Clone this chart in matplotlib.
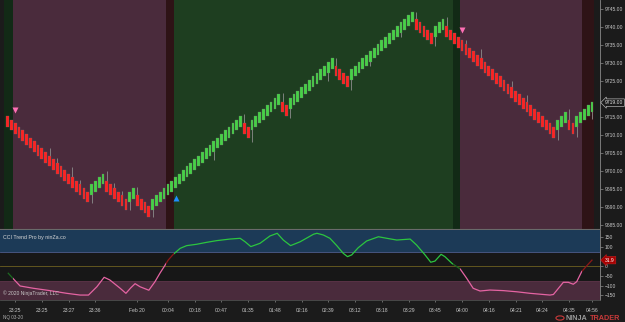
import numpy as np
import matplotlib
matplotlib.use('Agg')
import matplotlib.pyplot as plt
from matplotlib.patches import Rectangle, Circle

plt.rcParams['font.family'] = ['Liberation Sans', 'DejaVu Sans']

# renko bricks: signed run lengths (red < 0, green > 0)
runs = [-22, 4, -6, 2, -4, 24, -2, 8, -2, 12, -4, 17, -5, 3, -29, 3, -2, 5]
first_top = 9715.3
brick_body = 3.0
last_price = 9719.00

# wicks (bar index, extreme price)
wick_bar = [11, 13, 17, 19, 22, 26, 28, 30, 32, 34, 38, 54, 62, 64, 72, 74, 84, 86,
            90, 95, 103, 107, 112, 115, 120, 124, 132, 136, 144, 147, 149, 153]
wick_price = [9706.3, 9703.5, 9701.2, 9697.5, 9691.2, 9700.1, 9696.7, 9694.5, 9689.2,
              9695.5, 9687.3, 9703.1, 9715.8, 9708.1, 9721.8, 9714.6, 9725.0, 9731.5,
              9722.6, 9729.2, 9737.1, 9744.3, 9734.8, 9742.8, 9736.4, 9733.8, 9725.0,
              9721.0, 9708.6, 9717.1, 9709.4, 9714.4]

# signal arrows
sell_bar = [2, 119]
sell_price = [9717.0, 9739.2]
buy_bar = [44]
buy_price = [9692.4]

# trend zones (bar edges) and their kind
zone_edges = [-1.0, 1.5, 41.5, 43.5, 116.5, 118.5, 150.5, 153.5]
zone_kind = ['to_down', 'down', 'to_up', 'up', 'to_down', 'down', 'to_up']

# CCI Trend Pro line
cci_bar = [0.2, 1.4, 3.3, 6.8, 11.1, 15.5, 19.0, 21.2, 23.4, 25.3, 26.8, 29.5, 31.0, 32.3,
           33.4, 34.7, 37.0, 38.6, 39.9, 41.0, 42.1, 43.4, 45.2, 46.9, 49.5, 52.1, 54.8,
           58.2, 60.9, 62.2, 63.7, 66.1, 68.7, 70.6, 72.2, 74.1, 76.6, 80.1, 81.0, 82.7,
           84.4, 86.2, 87.9, 89.0, 90.1, 91.8, 94.0, 97.1, 99.3, 101.9, 105.4, 107.1,
           109.3, 110.8, 111.9, 113.5, 114.5, 116.3, 118.5, 120.2, 121.9, 123.7, 126.3,
           129.8, 133.3, 136.8, 142.0, 142.9, 145.5, 146.8, 148.1, 149.0, 150.3, 151.6, 153.0]
cci_val = [-36, -62, -102, -114, -126, -140, -149, -149, -106, -57, -71, -114, -140, -111,
           -90, -106, -124, -80, -36, -2, 33, 62, 93, 107, 114, 124, 133,
           141, 145, 127, 102, 119, 157, 171, 136, 107, 127, 166, 171, 162,
           145, 107, 67, 50, 59, 96, 131, 153, 145, 136, 141, 110,
           59, 21, 27, 62, 50, 16, -14, -62, -114, -128, -123,
           -126, -132, -140, -149, -146, -83, -83, -93, -80, -28, 2, 31.9]
cci_last = 31.9

price_ticks = [9685, 9690, 9695, 9700, 9705, 9710, 9715, 9725, 9730, 9735, 9740, 9745]
cci_ticks = [-150, -100, -50, 0, 100, 150]

time_bar = [2, 9, 16, 23, 34, 42, 49, 56, 63, 70, 77, 84, 91, 98, 105, 112, 119, 126,
            133, 140, 147, 153]
time_lbl = ['23:25', '23:25', '23:27', '23:36', 'Feb 20', '00:04', '00:18', '00:47',
            '01:35', '01:48', '02:16', '02:39', '03:12', '03:18', '03:29', '03:45',
            '04:00', '04:16', '04:21', '04:24', '04:35', '04:56']

zone_bg = {'up': '#1e3e20', 'down': '#4a2b3c', 'to_down': '#122a16', 'to_up': '#2e1316'}
zone_line = {'up': '#2cc53f', 'down': '#e564a3', 'to_down': '#1d6a22', 'to_up': '#8e1818'}

# build bricks
dirs = np.concatenate([np.full(abs(r), np.sign(r)) for r in runs])
tops = [first_top]
for k in range(1, len(dirs)):
    step = 1.0 if dirs[k] == dirs[k - 1] else 2.0
    tops.append(tops[-1] + dirs[k] * step)
tops = np.array(tops)
idx = np.arange(len(tops))

bg = '#1b1b1b'
txt = '#c8c8c8'
fig = plt.figure(figsize=(6.25, 3.22), dpi=100, facecolor=bg)
ax = fig.add_axes([0, 1 - 229 / 322, 600 / 625, 229 / 322], facecolor=bg)
ci = fig.add_axes([0, 1 - 300 / 322, 600 / 625, 70 / 322], facecolor='#171717', sharex=ax)

for k, kind in enumerate(zone_kind):
    ax.axvspan(zone_edges[k], zone_edges[k + 1], color=zone_bg[kind], lw=0, zorder=0)

ax.vlines(wick_bar, tops[wick_bar] - brick_body / 2, wick_price, colors='#8c8c8c', lw=0.6, zorder=2)
ax.bar(idx, np.full(len(idx), brick_body), bottom=tops - brick_body, width=0.72,
       color=np.where(dirs > 0, '#45d245', '#ff2020'), edgecolor='#707070', lw=0.2, zorder=3)

ax.plot(sell_bar, sell_price, 'v', color='#ff6fb5', ms=4.2, mec='none', zorder=4)
ax.plot(buy_bar, buy_price, '^', color='#1f8fff', ms=4.2, mec='none', zorder=4)

ax.set_xlim(-1.96, 155.1)
ax.set_ylim(9683.9, 9747.5)
ax.yaxis.tick_right()
ax.set_yticks(price_ticks)
ax.yaxis.set_major_formatter(matplotlib.ticker.FormatStrFormatter('%.2f'))
ax.tick_params(axis='y', colors='#8a8a8a', labelcolor=txt, labelsize=3.6, length=2, width=0.5, pad=1.5)
ax.tick_params(axis='x', bottom=False, labelbottom=False)
for s in ['top', 'left']:
    ax.spines[s].set_visible(False)
ax.spines['right'].set_color('#8a8a8a')
ax.spines['right'].set_linewidth(0.6)
ax.spines['bottom'].set_color('#6a6a6a')
ax.spines['bottom'].set_linewidth(0.8)

ax.text(1.008, last_price, '%.2f' % last_price, transform=ax.get_yaxis_transform(),
        fontsize=3.6, color='#e0e0e0', va='center', ha='left', zorder=10,
        bbox=dict(boxstyle='larrow,pad=0.25', fc=bg, ec='#b0b0b0', lw=0.5))

# indicator panel
ci.axhspan(75, 200, color='#1c3a57', lw=0, zorder=0)
ci.axhspan(-200, -75, color='#4a2b3c', lw=0, zorder=0)
ci.axhline(75, color='#4e5f90', lw=0.6, zorder=1)
ci.axhline(-75, color='#5e3448', lw=0.5, zorder=1)
ci.axhline(0, color='#6e6020', lw=0.6, zorder=1)
for k, kind in enumerate(zone_kind):
    clip = Rectangle((zone_edges[k], -200), zone_edges[k + 1] - zone_edges[k], 400,
                     transform=ci.transData)
    ln, = ci.plot(cci_bar, cci_val, color=zone_line[kind], lw=0.9, zorder=3)
    ln.set_clip_path(clip)

ci.set_ylim(-174.6, 188)
ci.yaxis.tick_right()
ci.set_yticks(cci_ticks)
ci.tick_params(axis='y', colors='#8a8a8a', labelcolor=txt, labelsize=3.6, length=2, width=0.5, pad=1.5)
ci.set_xticks(time_bar)
ci.set_xticklabels(time_lbl)
ci.tick_params(axis='x', colors='#8a8a8a', labelcolor=txt, labelsize=3.6, length=1.5, width=0.5, pad=4)
for s in ['top', 'left']:
    ci.spines[s].set_visible(False)
ci.spines['right'].set_color('#8a8a8a')
ci.spines['right'].set_linewidth(0.6)
ci.spines['bottom'].set_color('#505050')
ci.spines['bottom'].set_linewidth(0.6)

ci.text(1.008, cci_last, '%.1f' % cci_last, transform=ci.get_yaxis_transform(),
        fontsize=3.6, color='white', va='center', ha='left', zorder=10,
        bbox=dict(boxstyle='larrow,pad=0.25', fc='#a80000', ec='#c02020', lw=0.4))
ci.text(0.005, 0.93, 'CCI Trend Pro by ninZa.co', transform=ci.transAxes,
        fontsize=3.8, color='#d8d8d8', va='top', ha='left')
ci.text(0.005, 0.1, '\u00a9 2020 NinjaTrader, LLC', transform=ci.transAxes,
        fontsize=3.6, color='#c8c8c8', va='center', ha='left')

fig.text(3 / 625, 1 - 318 / 322, 'NQ 03-20', fontsize=3.3, color='#b0b0b0', va='center')
fig.text(566 / 625, 1 - 318 / 322, 'NINJA', fontsize=5.2, color='#9a9a9a', va='center',
         fontweight='bold')
fig.text(590 / 625, 1 - 318 / 322, 'TRADER', fontsize=5.2, color='#c83a3a', va='center',
         fontweight='bold')
fig.patches.append(Circle((560 / 625, 1 - 318 / 322), 0.0065, transform=fig.transFigure,
                          fc='none', ec='#c83a3a', lw=0.8))

fig.savefig('out.png', dpi=100, facecolor=bg)
